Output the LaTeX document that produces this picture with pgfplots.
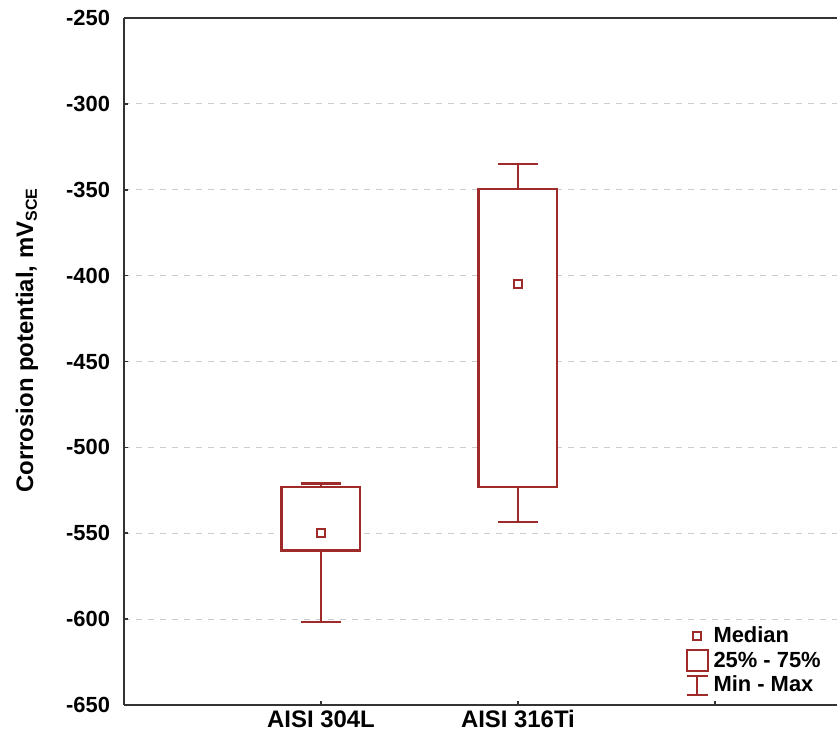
\documentclass[border=0pt]{standalone}
\usepackage{fontspec}
\setmainfont{Liberation Sans}
\usepackage{pgfplots}
\pgfplotsset{compat=1.18}
\definecolor{boxred}{RGB}{158,42,42}
\begin{document}
\begin{tikzpicture}
\begin{axis}[
  scale only axis,
  width=356.5bp, height=343.5bp,
  xmin=0, xmax=3.62,
  ymin=-650, ymax=-250,
  axis x line*=bottom, axis y line*=left,
  axis line style={black!80, line width=1bp, -},
  xtick={1,2,3}, xticklabels={AISI 304L,AISI 316Ti,},
  ytick={-650,-600,...,-250},
  tick align=inside, major tick length=2bp,
  tick style={black!80, line width=0.8bp},
  /pgf/number format/assume math mode=true,
  yticklabel style={font=\fontsize{11}{13}\selectfont\bfseries, xshift=-3.5bp},
  xticklabel style={font=\fontsize{12}{14}\selectfont\bfseries, yshift=-1.5bp, inner ysep=1bp},
  ymajorgrids,
  major grid style={black!20, line width=0.6bp, dash pattern=on 3bp off 3bp},
  ylabel={Corrosion potential, mV\textsubscript{SCE}},
  every axis y label/.style={at={(axis description cs:0,0.531)}, xshift=-48.5bp, rotate=90, anchor=center, font=\fontsize{12}{14}\selectfont\bfseries},
  legend style={at={(0.787,0.12)}, anchor=north west, draw=none, fill=none,
    font=\fontsize{11}{13}\selectfont\bfseries, row sep=-1bp, inner sep=0pt,
    nodes={inner xsep=2.5bp}},
  legend cell align=left,
]
% AISI 304L: min -601.5, Q1 -560, median -550, Q3 -523, max -521
\addplot[boxred, line width=1.1bp, forget plot] coordinates {(0.9,-601.5) (1.1,-601.5)};
\addplot[boxred, line width=1.1bp, forget plot] coordinates {(1,-601.5) (1,-560)};
\addplot[boxred, line width=1.1bp, forget plot] coordinates {(1,-523) (1,-521)};
\addplot[boxred, line width=1.1bp, forget plot] coordinates {(0.9,-521) (1.1,-521)};
\addplot[boxred, line width=1.1bp, fill=white, forget plot] coordinates {(0.8,-560) (1.2,-560) (1.2,-523) (0.8,-523)} --cycle;
% AISI 316Ti: min -543.5, Q1 -523, median -405, Q3 -349.5, max -335
\addplot[boxred, line width=1.1bp, forget plot] coordinates {(1.9,-543.5) (2.1,-543.5)};
\addplot[boxred, line width=1.1bp, forget plot] coordinates {(2,-543.5) (2,-523)};
\addplot[boxred, line width=1.1bp, forget plot] coordinates {(2,-349.5) (2,-335)};
\addplot[boxred, line width=1.1bp, forget plot] coordinates {(1.9,-335) (2.1,-335)};
\addplot[boxred, line width=1.1bp, fill=white, forget plot] coordinates {(1.8,-523) (2.2,-523) (2.2,-349.5) (1.8,-349.5)} --cycle;
% medians
\addplot[only marks, mark=square*, mark size=2bp, boxred, mark options={line width=1bp, fill=white}, forget plot]
  coordinates {(1,-550) (2,-405)};
\draw[black!80, line width=1bp] (rel axis cs:0,1) -- (rel axis cs:1,1);
\addlegendimage{legend image code/.code={\draw[boxred, line width=1bp] (3bp,-2bp) rectangle (7bp,2bp);}}
\addlegendentry{Median}
\addlegendimage{legend image code/.code={\draw[boxred, line width=1bp] (-0.25bp,-5.25bp) rectangle (10.25bp,5.25bp);}}
\addlegendentry{25\% - 75\%}
\addlegendimage{legend image code/.code={\draw[boxred, line width=1bp] (-0.25bp,-4.75bp) -- (10.25bp,-4.75bp) (5bp,-4.75bp) -- (5bp,4.5bp) (-0.25bp,4.5bp) -- (10.25bp,4.5bp);}}
\addlegendentry{Min - Max}
\end{axis}
\pgfresetboundingbox
\useasboundingbox ([xshift=-62bp,yshift=-16bp]current axis.south west) rectangle ([yshift=9bp]current axis.north east);
\end{tikzpicture}
\end{document}
